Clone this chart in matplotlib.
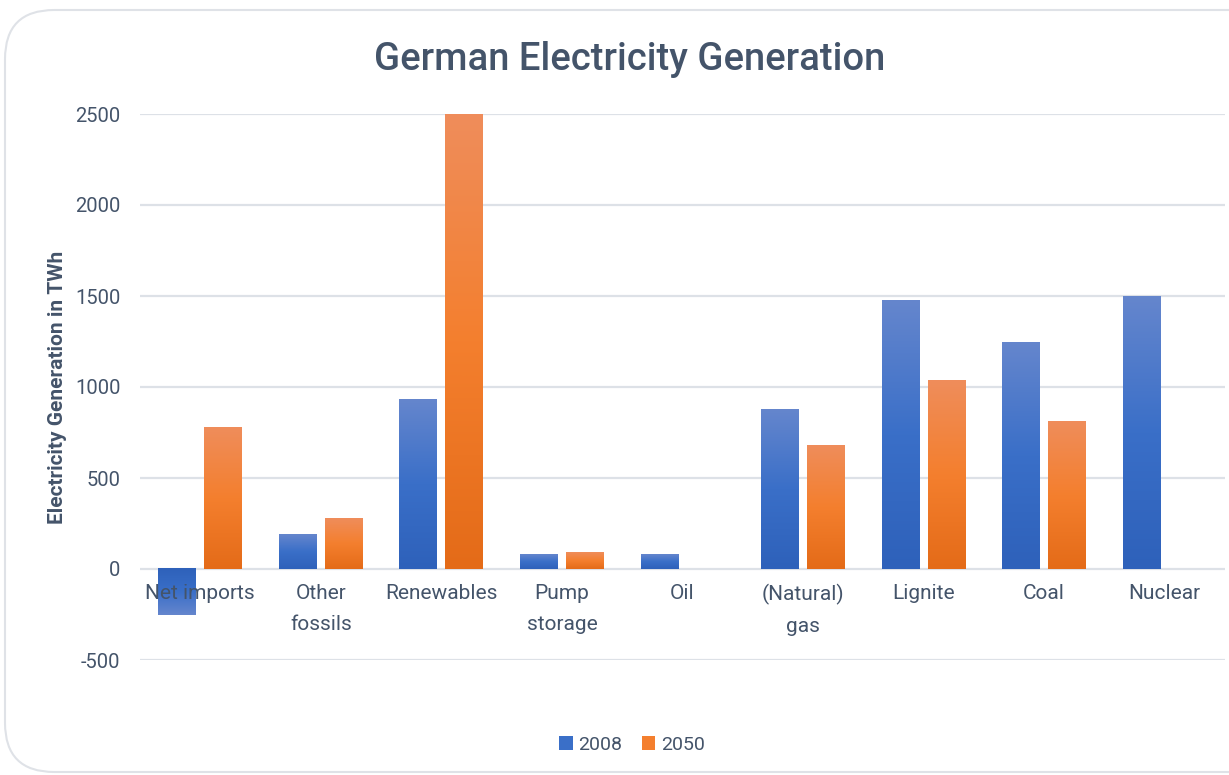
import numpy as np
import matplotlib.pyplot as plt
from matplotlib.colors import LinearSegmentedColormap
from matplotlib.patches import FancyBboxPatch, Patch

# data (TWh)
categories = ["Net imports", "Other\nfossils", "Renewables", "Pump\nstorage", "Oil",
              "(Natural)\ngas", "Lignite", "Coal", "Nuclear"]
gen_2008 = [-253, 187, 929, 77, 82, 879, 1478, 1247, 1495]
gen_2050 = [775, 275, 2500, 93, 0, 676, 1033, 813, 0]
series_names = ["2008", "2050"]
y_ticks = [-500, 0, 500, 1000, 1500, 2000, 2500]

text_col = "#44546a"
plt.rcParams['font.family'] = ['Roboto', 'DejaVu Sans']
plt.rcParams['axes.unicode_minus'] = False

blue_map = LinearSegmentedColormap.from_list("b", ["#2e61ba", "#3a6fc8", "#6586cd"])
orange_map = LinearSegmentedColormap.from_list("o", ["#e46b18", "#f47f2e", "#ef8d5b"])

fig = plt.figure(figsize=(12.29, 7.75), dpi=100)

# card outline like the Excel chart area
card = FancyBboxPatch((5 / 1229, 1 - 772 / 775), 1.2, 762 / 775,
                      boxstyle="round,pad=0,rounding_size=0.04",
                      transform=fig.transFigure, facecolor="white",
                      edgecolor="#dfe2e7", linewidth=1.5, clip_on=False, zorder=-5,
                      mutation_aspect=1229 / 775)
fig.patches.append(card)

ax = fig.add_axes([140 / 1229, 1 - 660 / 775, 1085 / 1229, 546 / 775])
ax.patch.set_alpha(0)

x = np.arange(len(categories))
w = 0.315
off = 0.19

def gradient_bars(xpos, vals, cmap):
    bars = ax.bar(xpos, vals, width=w, color="none", zorder=3)
    grad = np.linspace(0, 1, 256).reshape(-1, 1)
    for b, v in zip(bars, vals):
        if v == 0:
            continue
        x0 = b.get_x()
        data = grad if v > 0 else grad[::-1]
        ax.imshow(data, cmap=cmap, origin="lower", aspect="auto", zorder=3,
                  extent=(x0, x0 + w, min(0, v), max(0, v)), interpolation="bicubic")
    return bars

gradient_bars(x - off, gen_2008, blue_map)
gradient_bars(x + off, gen_2050, orange_map)

ax.set_xlim(-0.5, len(categories) - 0.5)
ax.set_ylim(-500, 2500)
ax.set_yticks(y_ticks)
ax.grid(axis="y", color="#dde1e7", linewidth=1.6, zorder=0)
ax.set_axisbelow(True)

for s in ["top", "right", "left"]:
    ax.spines[s].set_visible(False)
ax.spines["bottom"].set_position(("data", 0))
ax.spines["bottom"].set_visible(False)

# category labels sit on the zero line, drawn over the negative bar
ax.set_xticks(x)
ax.set_xticklabels(categories, linespacing=1.75)
ax.tick_params(axis="x", length=0, pad=11, labelsize=15, labelcolor=text_col)
ax.tick_params(axis="y", length=0, pad=14, labelsize=14.5, labelcolor=text_col)
ax.xaxis.set_zorder(5)

ax.set_ylabel("Electricity Generation in TWh", fontsize=15, fontweight="bold",
              color=text_col, labelpad=6)

fig.text(630 / 1229, 1 - 59 / 775, "German Electricity Generation", fontsize=27.5,
         color=text_col, ha="center", va="center", fontweight="medium")

handles = [Patch(facecolor="#3a6fc8"), Patch(facecolor="#f47f2e")]
fig.legend(handles, series_names, loc="center", bbox_to_anchor=(632 / 1229, 1 - 745 / 775),
           ncol=2, frameon=False, fontsize=14, labelcolor=text_col,
           handlelength=0.7, handleheight=0.7, handletextpad=0.3, columnspacing=1.0)

fig.savefig("out.png", dpi=100)
